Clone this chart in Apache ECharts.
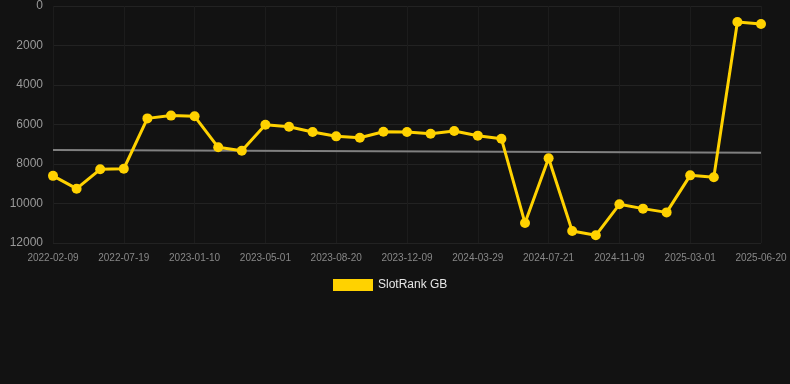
<!DOCTYPE html>
<html><head><meta charset="utf-8">
<script src="https://cdn.jsdelivr.net/npm/echarts@6/dist/echarts.min.js"></script>
<style>html,body{margin:0;padding:0;background:#121212;}#c{width:790px;height:384px;}</style>
</head><body><div id="c"></div>
<script>
const categories = [
 '2022-02-09','2022-03-25','2022-05-30','2022-07-19','2022-09-15','2022-11-12',
 '2023-01-10','2023-02-15','2023-03-24','2023-05-01','2023-06-07','2023-07-14',
 '2023-08-20','2023-09-26','2023-11-02','2023-12-09','2024-01-15','2024-02-21',
 '2024-03-29','2024-05-06','2024-06-13','2024-07-21','2024-08-27','2024-10-03',
 '2024-11-09','2024-12-17','2025-01-23','2025-03-01','2025-04-07','2025-05-14',
 '2025-06-20'
];
const rankValues = [
 8600, 9250, 8270, 8240, 5690, 5550, 5585, 7155, 7325, 6010, 6110,
 6380, 6600, 6670, 6365, 6380, 6465, 6330, 6565, 6720, 10990, 7710,
 11390, 11610, 10040, 10260, 10450, 8575, 8675, 810, 910
];
const trendStart = 7290;
const trendEnd = 7425;
const yTicks = [0, 2000, 4000, 6000, 8000, 10000, 12000];

const trendData = categories.map((c, i) => i === 0 ? trendStart : (i === categories.length - 1 ? trendEnd : null));

const chart = echarts.init(document.getElementById('c'));
chart.setOption({
  backgroundColor: '#121212',
  animation: false,
  grid: { left: 53, right: 29, top: 6, bottom: 141, containLabel: false },
  legend: {
    data: [{ name: 'SlotRank GB' }],
    left: 328, top: 274,
    itemWidth: 40, itemHeight: 12, icon: 'rect',
    textStyle: { color: '#e6e6e6', fontSize: 12, fontFamily: 'Liberation Sans, Arial, sans-serif' }
  },
  xAxis: {
    type: 'category', data: categories, boundaryGap: false,
    axisLine: { show: false }, axisTick: { show: false },
    axisLabel: { interval: 2, color: '#888888', fontSize: 10, margin: 10, fontFamily: 'Liberation Sans, Arial, sans-serif' },
    splitLine: { show: true, interval: 2, lineStyle: { color: '#1c1c1c', width: 1 } }
  },
  yAxis: {
    type: 'value', inverse: true, min: yTicks[0], max: yTicks[yTicks.length - 1], interval: 2000,
    axisLine: { show: false }, axisTick: { show: false },
    axisLabel: { color: '#999999', fontSize: 12, margin: 10, formatter: v => String(v), fontFamily: 'Liberation Sans, Arial, sans-serif' },
    splitLine: { lineStyle: { color: '#222222', width: 1 } }
  },
  series: [
    {
      name: 'Trend', type: 'line', data: trendData, connectNulls: true,
      symbol: 'none', lineStyle: { color: '#808080', width: 2 }, z: 1, silent: true
    },
    {
      name: 'SlotRank GB', type: 'line', data: rankValues,
      symbol: 'circle', symbolSize: 10,
      itemStyle: { color: '#FFD200' },
      lineStyle: { color: '#FFD200', width: 3 }, z: 3
    }
  ]
});
</script></body></html>
